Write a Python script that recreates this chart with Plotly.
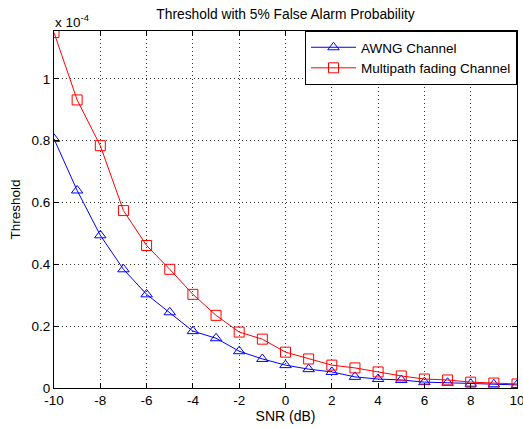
import plotly.graph_objects as go

snr_db = list(range(-10, 11))
# Threshold values in units of 1e-4
awgn_threshold = [0.806, 0.639, 0.494, 0.384, 0.303, 0.245, 0.184, 0.161, 0.119, 0.094,
                  0.074, 0.061, 0.052, 0.036, 0.029, 0.026, 0.019, 0.017, 0.014, 0.012, 0.010]
multipath_threshold = [1.150, 0.932, 0.784, 0.574, 0.461, 0.384, 0.303, 0.235, 0.181, 0.158,
                       0.116, 0.094, 0.074, 0.065, 0.052, 0.039, 0.029, 0.026, 0.019, 0.016, 0.013]
x_ticks = [-10, -8, -6, -4, -2, 0, 2, 4, 6, 8, 10]
x_tick_labels = ["-10", "-8", "-6", "-4", "-2", "0", "2", "4", "6", "8", "10"]
y_ticks = [0, 0.2, 0.4, 0.6, 0.8, 1.0]
y_tick_labels = ["0", "0.2", "0.4", "0.6", "0.8", "1"]

font = "Liberation Sans, Arial, sans-serif"
fs = 13.5

fig = go.Figure()
fig.add_trace(go.Scatter(
    x=snr_db, y=awgn_threshold, mode="lines+markers", name="AWNG Channel",
    line=dict(color="#0000ff", width=1),
    marker=dict(symbol="triangle-up-open", size=10, color="#0000ff", line=dict(width=1)),
))
fig.add_trace(go.Scatter(
    x=snr_db, y=multipath_threshold, mode="lines+markers", name="Multipath fading Channel",
    line=dict(color="#ff0000", width=1),
    marker=dict(symbol="square-open", size=10, color="#ff0000", line=dict(width=1)),
))

axis_common = dict(
    showline=True, linecolor="black", linewidth=1, mirror="allticks",
    ticks="inside", ticklen=5, tickcolor="black",
    showgrid=True, gridcolor="#333333", gridwidth=1, griddash="1px,3px",
    zeroline=False, tickfont=dict(size=fs, color="black", family=font),
    automargin=False, ticklabeloverflow="allow",
)

fig.update_xaxes(range=[-10, 10], tickvals=x_ticks, ticktext=x_tick_labels, **axis_common,
                 title=dict(text="SNR (dB)", font=dict(size=14, color="black", family=font), standoff=3))
fig.update_yaxes(range=[0, 1.155], tickvals=y_ticks, ticktext=y_tick_labels, **axis_common,
                 title=dict(text="Threshold", font=dict(size=fs, color="black", family=font), standoff=7))

fig.add_annotation(xref="paper", yref="paper", x=0, y=1, xanchor="left", yanchor="bottom",
                   text="x 10<sup>-4</sup>", showarrow=False,
                   font=dict(size=fs, color="black", family=font), xshift=-1, yshift=-1)

fig.update_layout(
    width=523, height=428,
    margin=dict(l=54, r=6, t=31, b=40, autoexpand=False),
    paper_bgcolor="white", plot_bgcolor="white",
    title=dict(text="Threshold with 5% False Alarm Probability", xref="paper", x=0.5, xanchor="center",
               y=0.968, yanchor="middle", font=dict(size=13.8, color="black", family=font)),
    legend=dict(x=1, xanchor="right", y=1, yanchor="top", bgcolor="white",
                bordercolor="black", borderwidth=1, font=dict(size=fs, color="black", family=font),
                tracegroupgap=0, itemwidth=45),
    showlegend=True,
)

fig.write_html("out.html", post_script="document.body.style.margin='0';",
               config={"displayModeBar": False})
